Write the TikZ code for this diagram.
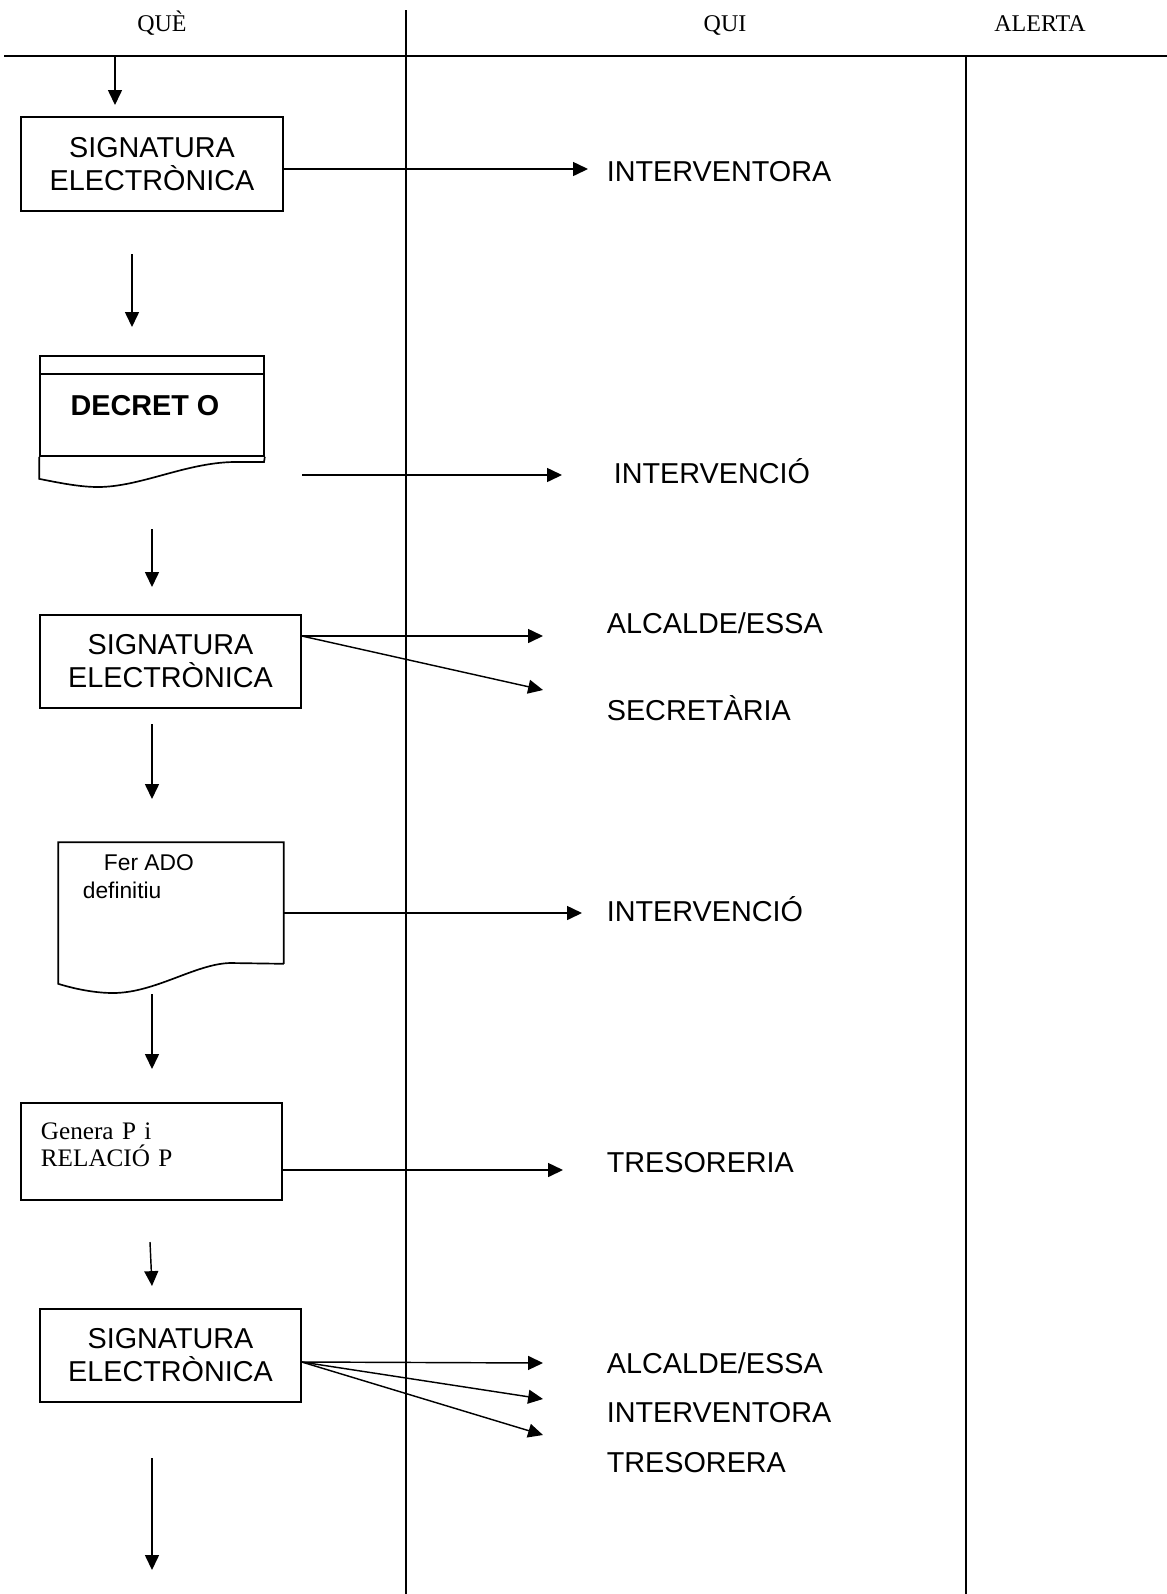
\documentclass[tikz,border=0pt]{standalone}
\usepackage{fontspec}
\setmainfont{Liberation Serif}
\newfontfamily\arialfont{Liberation Sans}
\usetikzlibrary{arrows.meta,calc}

\begin{document}
\begin{tikzpicture}[x=0.417pt,y=-0.417pt,line width=0.7pt,
	box/.style={draw,line width=0.7pt,inner sep=0pt,align=center,font=\arialfont\fontsize{12}{13.8}\selectfont},
	who/.style={anchor=west,inner sep=0pt,text height=8.6pt,text depth=0pt,font=\arialfont\fontsize{12}{14}\selectfont},
	col/.style={inner sep=0pt,text height=6.6pt,text depth=0pt,font=\fontsize{10}{12}\selectfont},
	arr/.style={line width=0.6pt,-{Triangle[length=6.2pt,width=5.8pt]}}]
			\useasboundingbox (0,0) rectangle (1167,1594);
			% columns
			\node[col] (que) at (162,24) {QUÈ}; \node[col] (qui) at (725,24) {QUI}; \node[col] (alerta) at (1040,24) {ALERTA};
			\draw[line width=1.2pt] (4,56) -- (1167,56);
			\draw (406,10) -- (406,1594);
			\draw (966,56) -- (966,1594);
			% steps
			\node[box,minimum width=109.3pt,minimum height=39.2pt] (sig1) at (152,164) {SIGNATURA\\ELECTRÒNICA};
			\node[draw,inner sep=0pt,minimum width=93.4pt,minimum height=41.7pt,font=\arialfont\bfseries\fontsize{12}{14}\selectfont] (decret) at (152,406) {DECRET O\hspace*{5.8pt}};
			\draw ($(decret.north west)+(0,19)$) -- ($(decret.north east)+(0,19)$);
			\draw (decret.south west) -- ++(0,22) .. controls (60,483) and (80,487) .. (98,487) .. controls (140,487) and (185,463) .. (233,462) -- (264,462) -- (decret.south east);
			\node[box,minimum width=108.8pt,minimum height=38.8pt] (sig2) at (170.5,661.5) {SIGNATURA\\ELECTRÒNICA};
			\node[inner sep=0pt,minimum width=93.4pt,minimum height=50pt] (ado) at (171,903) {};
			\draw (ado.south east) -- (ado.north east) -- (ado.north west) -- (ado.south west) -- ++(0,20) .. controls (75,989) and (95,993) .. (113,993) .. controls (155,993) and (195,964) .. (230,963) -- (ado.south east);
			\node[anchor=north west,inner sep=0pt,align=left,font=\arialfont\fontsize{9.5}{11.7}\selectfont] (adotxt) at (82,854) {\hspace*{8.8pt}Fer ADO\\definitiu};
			\node[box,minimum width=108.8pt,minimum height=40.4pt,inner xsep=8.3pt,text width=92.2pt,text depth=17pt,align=left,font=\fontsize{10.5}{11.3}\selectfont] (gen) at (151.5,1151.5) {Genera P i\\RELACIÓ P};
			\node[box,minimum width=108.8pt,minimum height=38.8pt] (sig3) at (170.5,1355.5) {SIGNATURA\\ELECTRÒNICA};
			% who
			\node[who] (w1) at (606,171) {INTERVENTORA};
			\node[who] (w2) at (613,473) {INTERVENCIÓ};
			\node[who] (w3) at (606,623) {ALCALDE/ESSA};
			\node[who] (w4) at (606,710) {SECRETÀRIA};
			\node[who] (w5) at (606,911) {INTERVENCIÓ};
			\node[who] (w6) at (606,1162) {TRESORERIA};
			\node[who] (w7) at (606,1363) {ALCALDE/ESSA};
			\node[who] (w8) at (606,1412) {INTERVENTORA};
			\node[who] (w9) at (606,1462) {TRESORERA};
			% flow arrows
			\foreach \n/\xa/\ya/\xb/\yb in {0/115/56/115/105, 1/132/254/132/327, 2/152/529/152/587, 3/152/724/152/799, 4/152/994/152/1069, 5/150/1242/152/1286, 6/152/1458/152/1570}{
				\coordinate (d\n a) at (\xa,\ya); \coordinate (d\n b) at (\xb,\yb);
				\draw[arr] (d\n a) -- (d\n b);
			}
			% arrows to who
			\coordinate (t1) at (588,169); \draw[arr] (sig1.east |- t1) -- (t1);
			\coordinate (s2) at (302,475); \coordinate (t2) at (562,475); \draw[arr] (s2) -- (t2);
			\coordinate (s3) at (sig2.east |- 0,636);
			\coordinate (t3a) at (543,636); \coordinate (t3b) at (543,690);
			\draw[arr] (s3) -- (t3a); \draw[arr] (s3) -- (t3b);
			\coordinate (t4) at (582,913); \draw[arr] (ado.east |- t4) -- (t4);
			\coordinate (t5) at (563,1170); \draw[arr] (gen.east |- t5) -- (t5);
			\coordinate (s6) at (sig3.east |- 0,1362);
			\coordinate (t6a) at (543,1363); \coordinate (t6b) at (543,1399); \coordinate (t6c) at (543,1435);
			\draw[arr] (s6) -- (t6a); \draw[arr] (s6) -- (t6b); \draw[arr] (s6) -- (t6c);
			\end{tikzpicture}
\end{document}
